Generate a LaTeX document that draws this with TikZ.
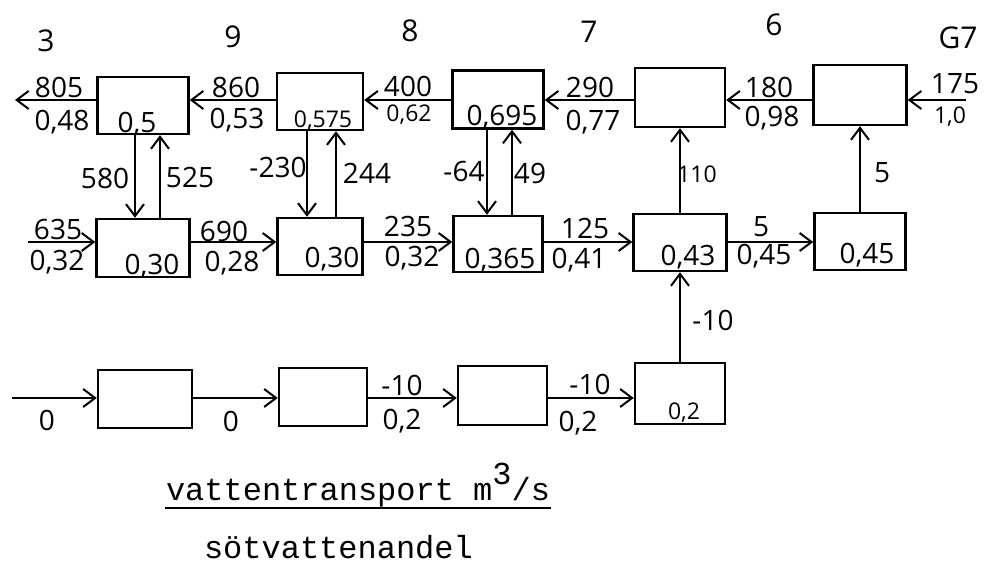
\documentclass[tikz,border=0pt]{standalone}
\usepackage{fontspec}
\setmainfont{Open Sans}
\newfontfamily\typew{Liberation Mono}
\usetikzlibrary{arrows.meta,calc}

\begin{document}
\begin{tikzpicture}[
  x=0.5pt, y=-0.5pt, line width=1pt,
  cell/.style ={draw,rectangle,line width=1.2pt,inner sep=0},
  flow/.style ={draw,-{Straight Barb[length=6pt,width=9pt,line width=1pt]}},
  num/.style  ={font=\fontsize{14}{16}\selectfont,inner sep=0.5pt},
  sml/.style  ={font=\fontsize{11.5}{13}\selectfont,inner sep=0.5pt},
  col/.style  ={font=\fontsize{15}{17}\selectfont,inner sep=0.5pt},
  leg/.style  ={font=\typew\fontsize{16}{18}\selectfont,inner sep=0pt,anchor=base west},
]
\useasboundingbox (0,0) rectangle (990,571);

% ------------------------------------------------------------ section numbers
\node[col] (n3)  at (46,41)  {3};
\node[col] (n9)  at (233,37) {9};
\node[col] (n8)  at (410,31) {8};
\node[col] (n7)  at (589,32) {7};
\node[col] (n6)  at (774,25) {6};
\node[col] (nG7) at (958,38) {G7};

% ------------------------------------------------------------ boxes, top row
\node[cell,minimum width=45.5pt,minimum height=28.5pt] (t1) at (143,105.5) {};
\node[cell,minimum width=43pt,  minimum height=28.5pt] (t2) at (320,101.5) {};
\node[cell,minimum width=45.5pt,minimum height=29pt]   (t3) at (498,99.5)  {};
\node[cell,minimum width=45pt,  minimum height=29.5pt] (t4) at (680,97.5)  {};
\node[cell,minimum width=46.5pt,minimum height=30pt]   (t5) at (860,95)    {};
% middle row
\node[cell,minimum width=46.5pt,minimum height=29pt]   (m1) at (143,248)   {};
\node[cell,minimum width=42.5pt,minimum height=28.5pt] (m2) at (320,246.5) {};
\node[cell,minimum width=44.5pt,minimum height=28pt]   (m3) at (498,244)   {};
\node[cell,minimum width=46.5pt,minimum height=28.5pt] (m4) at (680,242.5) {};
\node[cell,minimum width=45.5pt,minimum height=28.5pt] (m5) at (860,241.5) {};
% bottom row
\node[cell,minimum width=47pt,  minimum height=29pt]   (u1) at (145,399)   {};
\node[cell,minimum width=44pt,  minimum height=29pt]   (u2) at (323,397)   {};
\node[cell,minimum width=44.5pt,minimum height=29.5pt] (u3) at (502.5,395.5) {};
\node[cell,minimum width=45pt,  minimum height=30.5pt] (u4) at (680,393.5) {};

% levels of the horizontal flows and their free ends
\coordinate (rowT) at (0,100);
\coordinate (rowM) at (0,242);
\coordinate (rowU) at (0,398);
\coordinate (outT) at (15,100);
\coordinate (inT)  at (966,100);
\coordinate (inM)  at (28,242);
\coordinate (inU)  at (12,398);

% ------------------------------------------------------------ horizontal flows
\draw[flow] (t1.west |- rowT) -- (outT);
\foreach \a/\b in {t2/t1, t3/t2, t4/t3, t5/t4}
  \draw[flow] (\a.west |- rowT) -- (\b.east |- rowT);
\draw[flow] (inT) -- (t5.east |- rowT);

\draw[flow] (inM) -- (m1.west |- rowM);
\foreach \a/\b in {m1/m2, m2/m3, m3/m4, m4/m5}
  \draw[flow] (\a.east |- rowM) -- (\b.west |- rowM);

\draw[flow] (inU) -- (u1.west |- rowU);
\foreach \a/\b in {u1/u2, u2/u3, u3/u4}
  \draw[flow] (\a.east |- rowU) -- (\b.west |- rowU);

% ------------------------------------------------------------ vertical flows
\draw[flow] ([xshift=-4pt]t1.south)   -- ([xshift=-4pt]m1.north);
\draw[flow] ([xshift=8.5pt]m1.north)  -- ([xshift=8.5pt]t1.south);
\draw[flow] ([xshift=-6.5pt]t2.south) -- ([xshift=-6.5pt]m2.north);
\draw[flow] ([xshift=8pt]m2.north)    -- ([xshift=8pt]t2.south);
\draw[flow] ([xshift=-5.5pt]t3.south) -- ([xshift=-5.5pt]m3.north);
\draw[flow] ([xshift=7pt]m3.north)    -- ([xshift=7pt]t3.south);
\draw[flow] (m4.north) -- (t4.south);
\draw[flow] (m5.north) -- (t5.south);
\draw[flow] (u4.north) -- (m4.south);

% ------------------------------------------------------------ labels, top row
\node[num] (q805) at (59,87)   {805};
\node[num] (f048) at (62,122)  {0,48};
\node[num] (q860) at (236,87)  {860};
\node[num] (f053) at (237,120) {0,53};
\node[num] (q400) at (408,86)  {400};
\node[sml] (f062) at (409,115) {0,62};
\node[num] (q290) at (590,87)  {290};
\node[num] (f077) at (593,122) {0,77};
\node[num] (q180) at (769,87)  {180};
\node[num] (f098) at (772,118) {0,98};
\node[num] (q175) at (955,84)  {175};
\node[sml] (f10)  at (950,117) {1,0};
\node[num] (v05)   at (137,124) {0,5};
\node[sml] (v0575) at (323,121) {0,575};
\node[num] (v0695) at (502,117) {0,695};

% between the rows
\node[num] (q580) at (105,178) {580};
\node[num] (q525) at (190,178) {525};
\node[num] (q230) at (278,167) {-230};
\node[num] (q244) at (367,173) {244};
\node[num] (q64)  at (464,172) {-64};
\node[num] (q49)  at (530,174) {49};
\node[sml] (q110) at (697,174) {110};
\node[num] (q5a)  at (882,173) {5};
\node[num] (q10c) at (713,320) {-10};

% middle row
\node[num] (q635)  at (58,230)  {635};
\node[num] (f032a) at (57,262)  {0,32};
\node[num] (q690)  at (224,231) {690};
\node[num] (f028)  at (232,263) {0,28};
\node[num] (q235)  at (408,227) {235};
\node[num] (f032b) at (412,258) {0,32};
\node[num] (q125)  at (585,229) {125};
\node[num] (f041)  at (579,260) {0,41};
\node[num] (q5b)   at (761,227) {5};
\node[num] (f045a) at (764,256) {0,45};
\node[num] (v030a) at (152,266) {0,30};
\node[num] (v030b) at (332,259) {0,30};
\node[num] (v0365) at (500,260) {0,365};
\node[num] (v043)  at (688,257) {0,43};
\node[num] (v045)  at (867,255) {0,45};

% bottom row
\node[num] (q0a)  at (47,420)  {0};
\node[num] (q0b)  at (231,421) {0};
\node[num] (q10a) at (402,385) {-10};
\node[num] (f02a) at (402,421) {0,2};
\node[num] (q10b) at (590,384) {-10};
\node[num] (f02b) at (578,423) {0,2};
\node[sml] (v02)  at (684,413) {0,2};

% ------------------------------------------------------------ legend
\node[leg] (leg1) at (165,500) {vattentransport m\raisebox{0.5em}{3}/s};
\node[leg] (leg2) at (203,558) {sötvattenandel};
\draw[line width=1pt] ([yshift=-4pt]leg1.base west) -- ([yshift=-4pt]leg1.base east);

\end{tikzpicture}
\end{document}
